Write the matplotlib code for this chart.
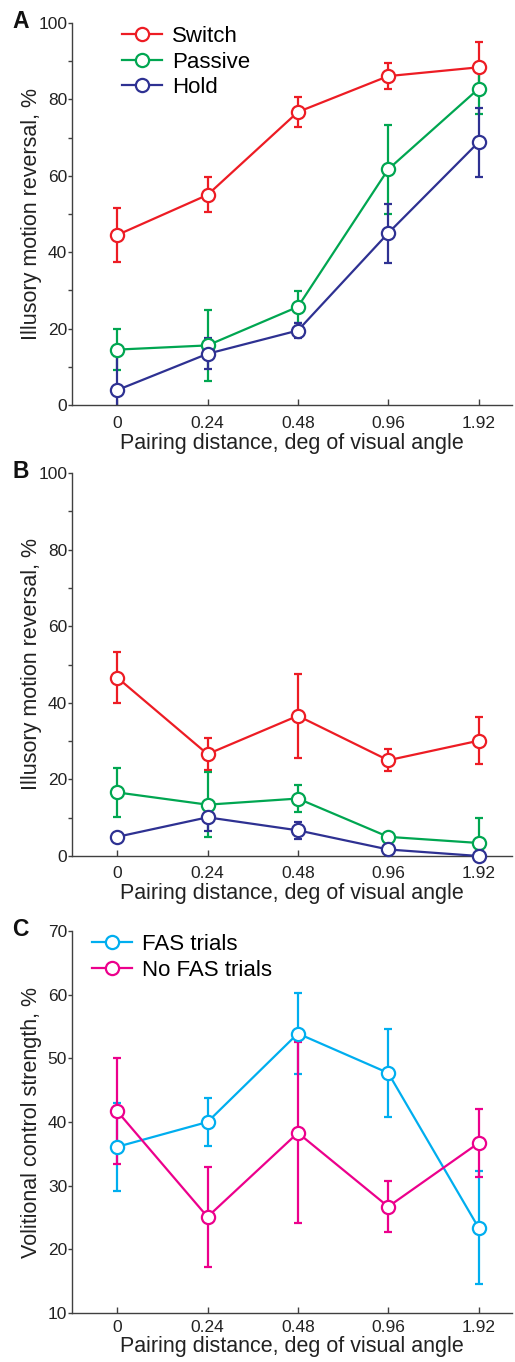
import matplotlib
matplotlib.use("Agg")
import matplotlib.pyplot as plt
import numpy as np

plt.rcParams['font.family'] = ['Liberation Sans', 'DejaVu Sans']

x_labels = ["0", "0.24", "0.48", "0.96", "1.92"]

# Panel A
a_switch = [44.5, 55.0, 76.7, 86.1, 88.4]
a_switch_err = [7.0, 4.6, 4.0, 3.3, 6.7]
a_passive = [14.5, 15.6, 25.7, 61.7, 82.8]
a_passive_err = [5.3, 9.4, 4.2, 11.7, 6.6]
a_hold = [3.9, 13.4, 19.5, 45.0, 68.8]
a_hold_err = [9.0, 4.1, 1.9, 7.7, 9.0]

# Panel B
b_switch = [46.6, 26.6, 36.6, 25.0, 30.1]
b_switch_err = [6.7, 4.1, 11.0, 2.9, 6.1]
b_passive = [16.6, 13.4, 15.0, 5.0, 3.4]
b_passive_err = [6.3, 8.5, 3.5, 0.0, 6.5]
b_hold = [5.0, 10.1, 6.7, 1.7, 0.0]
b_hold_err = [0.0, 3.6, 2.2, 0.0, 0.0]

# Panel C
c_fas = [36.1, 40.0, 53.9, 47.7, 23.4]
c_fas_err = [6.9, 3.7, 6.4, 6.9, 8.9]
c_nofas = [41.7, 25.1, 38.3, 26.7, 36.7]
c_nofas_err = [8.3, 7.8, 14.2, 4.0, 5.3]

RED = "#ED1C24"
GREEN = "#00A651"
BLUE = "#2E3192"
CYAN = "#00AEEF"
MAG = "#EC008C"
SPINE = "#404040"
TXT = "#222222"

W, H = 515, 1362
fig = plt.figure(figsize=(W / 100, H / 100), dpi=100)

def px_axes(top, bottom, left=72, right=512):
    return fig.add_axes([left / W, 1 - bottom / H, (right - left) / W, (bottom - top) / H])

xs = np.arange(1, 6)

def draw_series(ax, y, err, color, label):
    ax.errorbar(xs, y, yerr=err, fmt='none', ecolor=color, elinewidth=1.6,
                capsize=3, capthick=1.6, zorder=2)
    ax.plot(xs, y, '-o', color=color, lw=1.6, ms=9.5, mfc='white', mec=color,
            mew=1.6, label=label, clip_on=False, zorder=3)

def style(ax, ymin, ymax, major, minor, ylabel, xpad):
    ax.set_xlim(0.5, 5.37)
    ax.set_ylim(ymin, ymax)
    ax.set_xticks(xs)
    ax.set_xticklabels(x_labels)
    ax.set_yticks(np.arange(ymin, ymax + 0.1, major))
    ax.set_yticks(np.arange(ymin, ymax + 0.1, minor), minor=True)
    for s in ['top', 'right']:
        ax.spines[s].set_visible(False)
    for s in ['left', 'bottom']:
        ax.spines[s].set_color(SPINE)
        ax.spines[s].set_linewidth(1.0)
    ax.tick_params(axis='x', direction='in', length=4, width=1, color=SPINE,
                   labelsize=12.5, pad=xpad, labelcolor=TXT)
    ax.tick_params(axis='y', which='both', direction='out', length=3, width=1,
                   color=SPINE, labelsize=12.5, pad=0.5, labelcolor=TXT)
    ax.set_xlabel("Pairing distance, deg of visual angle", fontsize=15.5,
                  labelpad=1, color=TXT)
    ax.set_ylabel(ylabel, fontsize=15.5, color=TXT)
    ax.yaxis.set_label_coords(-0.069, 0.5)

# Panel A
axA = px_axes(23, 405)
draw_series(axA, a_switch, a_switch_err, RED, "Switch")
draw_series(axA, a_passive, a_passive_err, GREEN, "Passive")
draw_series(axA, a_hold, a_hold_err, BLUE, "Hold")
style(axA, 0, 100, 20, 10, "Illusory motion reversal, %", 8)
axA.legend(loc='upper left', bbox_to_anchor=(0.114, 0.992), frameon=False,
           fontsize=16, handlelength=1.8, handletextpad=0.45, labelspacing=0.2,
           borderpad=0, borderaxespad=0)

# Panel B
axB = px_axes(473, 856)
draw_series(axB, b_switch, b_switch_err, RED, "Switch")
draw_series(axB, b_passive, b_passive_err, GREEN, "Passive")
draw_series(axB, b_hold, b_hold_err, BLUE, "Hold")
style(axB, 0, 100, 20, 10, "Illusory motion reversal, %", 7.5)

# Panel C
axC = px_axes(931, 1313)
draw_series(axC, c_fas, c_fas_err, CYAN, "FAS trials")
draw_series(axC, c_nofas, c_nofas_err, MAG, "No FAS trials")
style(axC, 10, 70, 10, 10, "Volitional control strength, %", 5)
axC.legend(loc='upper left', bbox_to_anchor=(0.045, 0.992), frameon=False,
           fontsize=16, handlelength=1.8, handletextpad=0.45, labelspacing=0.2,
           borderpad=0, borderaxespad=0)

# Panel letters
for letter, ypx in [("A", 21), ("B", 472), ("C", 929)]:
    fig.text(12 / W, 1 - ypx / H, letter, fontsize=16.5, fontweight='bold',
             ha='left', va='center', color='#111111')

fig.savefig("out.png", dpi=100)
